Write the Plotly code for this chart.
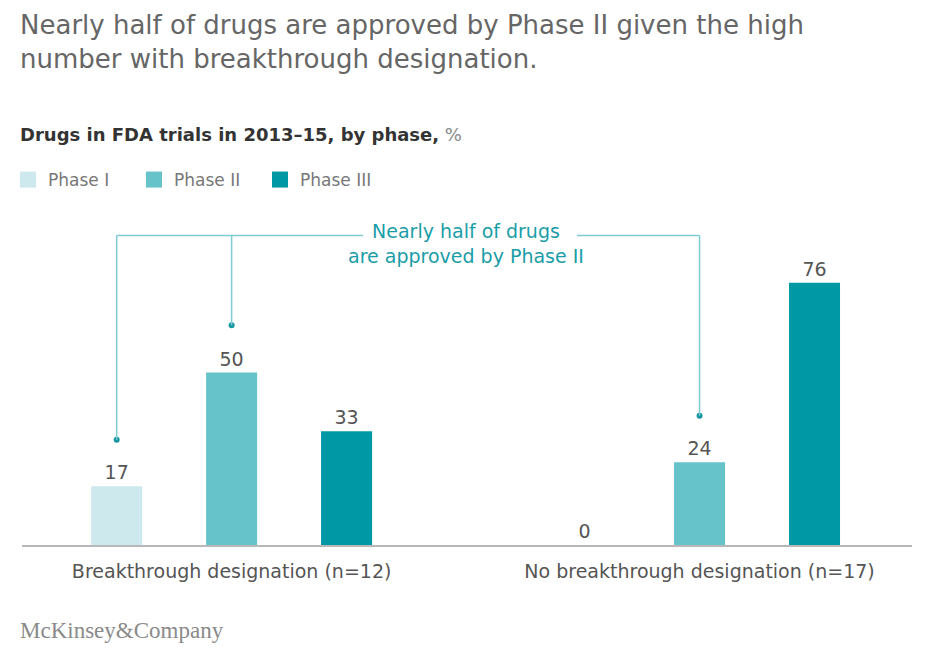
import plotly.graph_objects as go

# ---- data ----
groups = ["Breakthrough designation (n=12)", "No breakthrough designation (n=17)"]
phases = ["Phase I", "Phase II", "Phase III"]
phase1 = [17, 0]
phase2 = [50, 24]
phase3 = [33, 76]
colors = ["#cde9ed", "#67c3ca", "#0098a4"]

title_text = "Nearly half of drugs are approved by Phase II given the high<br>number with breakthrough designation."
subtitle_text = "<b>Drugs in FDA trials in 2013–15, by phase,</b> <span style='color:#888'>%</span>"
callout_text = "Nearly half of drugs<br>are approved by Phase II"

FONT = "DejaVu Sans, Liberation Sans, Arial, sans-serif"
W, H = 934, 657
ML, MR, MT, MB = 22, 22, 200, 112
PW = W - ML - MR
PH = H - MT - MB

bargap = 0.263
slot = (1 - bargap) / 3
offsets = [-slot, 0, slot]

fig = go.Figure()
for name, vals, col in zip(phases, [phase1, phase2, phase3], colors):
    fig.add_trace(go.Bar(
        x=[0, 1], y=vals, name=name, legendgroup=name, showlegend=False,
        marker=dict(color=col, line=dict(width=0)),
        text=[str(v) for v in vals], textposition="outside",
        textfont=dict(size=19, color="#555555", family=FONT),
        cliponaxis=False, hoverinfo="skip",
    ))
# legend entries with larger square swatches
for name, col in zip(phases, colors):
    fig.add_trace(go.Scatter(
        x=[None], y=[None], mode="markers", name=name, legendgroup=name,
        marker=dict(symbol="square", size=16, color=col), hoverinfo="skip",
    ))

# callout bracket
line_col = "#7fcbd0"
dot_col = "#1797a2"
bracket_y = 89.7
targets = [(0 + offsets[0], phase1[0] + 13.5), (0 + offsets[1], phase2[0] + 13.7), (1 + offsets[1], phase2[1] + 13.5)]
fig.add_trace(go.Scatter(
    x=[t[0] for t in targets], y=[t[1] for t in targets], mode="markers",
    marker=dict(color=dot_col, size=6), showlegend=False, hoverinfo="skip", cliponaxis=False,
))
shapes = []
for tx, ty in targets:
    shapes.append(dict(type="line", xref="x", yref="y", x0=tx, x1=tx, y0=ty, y1=bracket_y,
                       line=dict(color=line_col, width=1.5)))
shapes.append(dict(type="line", xref="x", yref="y", x0=targets[0][0], x1=0.281, y0=bracket_y, y1=bracket_y,
                   line=dict(color=line_col, width=1.5)))
shapes.append(dict(type="line", xref="x", yref="y", x0=0.738, x1=targets[2][0], y0=bracket_y, y1=bracket_y,
                   line=dict(color=line_col, width=1.5)))

def px_x(p):
    return (p - ML) / PW

def px_y(p):
    return (H - MB - p) / PH

annotations = [
    dict(text=title_text, x=px_x(18), y=px_y(42), xref="paper", yref="paper", showarrow=False,
         xanchor="left", yanchor="middle", align="left",
         font=dict(size=26, color="#666666", family=FONT)),
    dict(text=callout_text, x=0.5, y=bracket_y - 2.3, xref="x", yref="y", showarrow=False,
         font=dict(size=19, color="#1a9da8", family=FONT), align="center", yanchor="middle"),
    dict(text=subtitle_text, x=px_x(18), y=px_y(134), xref="paper", yref="paper", showarrow=False,
         xanchor="left", yanchor="middle", font=dict(size=18, color="#333333", family=FONT)),
    dict(text="McKinsey&amp;Company", x=px_x(18), y=px_y(630), xref="paper", yref="paper", showarrow=False,
         xanchor="left", yanchor="middle", font=dict(size=23, color="#8a8a8a", family="Liberation Serif, Times New Roman, serif")),
]

fig.update_layout(
    width=W, height=H,
    margin=dict(l=ML, r=MR, t=MT, b=MB, autoexpand=False),
    paper_bgcolor="white", plot_bgcolor="white",
    barmode="group", bargap=bargap, bargroupgap=0.556,
    legend=dict(orientation="h", xref="container", yref="container", x=8 / W, y=1 - 180 / H,
                xanchor="left", yanchor="middle", font=dict(size=17, color="#777777", family=FONT),
                itemclick=False, itemdoubleclick=False, traceorder="normal",
                entrywidth=81, entrywidthmode="pixels", itemsizing="trace"),
    xaxis=dict(range=[-0.448, 1.454], tickvals=[0, 1], ticktext=groups, showgrid=False, zeroline=False,
               showline=True, linecolor="#b8b8b8", linewidth=2, ticks="", automargin=False,
               tickfont=dict(size=19, color="#555555", family=FONT), ticklabelstandoff=8, fixedrange=True),
    yaxis=dict(range=[0, 100], visible=False, fixedrange=True, automargin=False),
    shapes=shapes, annotations=annotations,
    showlegend=True,
)

fig.write_html("out.html", post_script="document.body.style.margin='0px';",
               config={"displayModeBar": False})
